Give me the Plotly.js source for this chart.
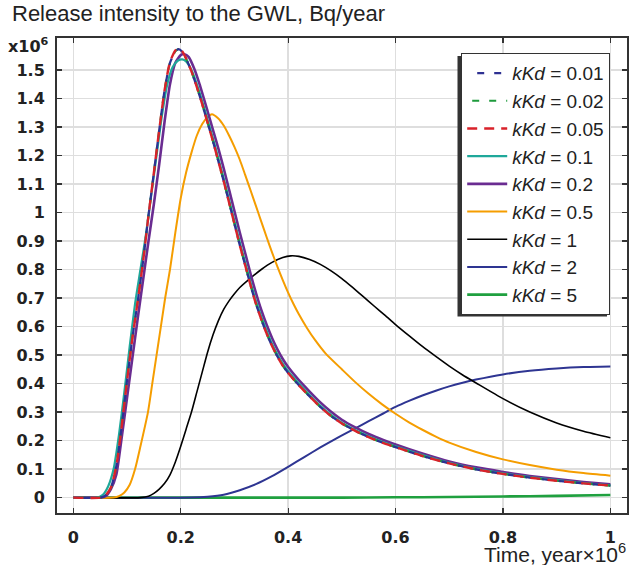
<!DOCTYPE html>
<html>
<head>
<meta charset="utf-8">
<script src="https://cdn.plot.ly/plotly-3.0.1.min.js"></script>
<style>html,body{margin:0;padding:0;background:#fff;}#chart{width:634px;height:565px;}</style>
</head>
<body>
<div id="chart"></div>
<script>
// ---- data (time in 10^6 years, release in 10^6 Bq/year) ----
const labels = ["0.01", "0.02", "0.05", "0.1", "0.2", "0.5", "1", "2", "5"];

const x001 = [0, 0.05, 0.06, 0.07, 0.08, 0.09, 0.1, 0.11, 0.12, 0.13, 0.14, 0.15, 0.16, 0.17, 0.18, 0.19, 0.196, 0.203, 0.21, 0.22, 0.23, 0.24, 0.25, 0.26, 0.27, 0.28, 0.29, 0.3, 0.31, 0.32, 0.33, 0.34, 0.35, 0.36, 0.37, 0.38, 0.39, 0.4, 0.42, 0.44, 0.46, 0.48, 0.5, 0.525, 0.55, 0.575, 0.6, 0.65, 0.7, 0.75, 0.8, 0.85, 0.9, 0.95, 1.0];
const y001 = [0, 0, 0.008, 0.035, 0.11, 0.25, 0.41, 0.56, 0.69, 0.83, 0.99, 1.14, 1.29, 1.43, 1.525, 1.565, 1.573, 1.563, 1.54, 1.495, 1.44, 1.38, 1.315, 1.25, 1.18, 1.11, 1.035, 0.96, 0.885, 0.815, 0.745, 0.68, 0.625, 0.575, 0.532, 0.495, 0.463, 0.437, 0.394, 0.355, 0.318, 0.286, 0.26, 0.234, 0.212, 0.193, 0.177, 0.146, 0.12, 0.099, 0.083, 0.07, 0.059, 0.05, 0.042];
const x002 = x001.slice();
const y002 = y001.slice();
const x005 = x001.slice();
const y005 = [0, 0, 0.008, 0.035, 0.11, 0.25, 0.41, 0.56, 0.69, 0.83, 0.99, 1.14, 1.29, 1.43, 1.528, 1.568, 1.576, 1.565, 1.54, 1.495, 1.44, 1.38, 1.315, 1.25, 1.18, 1.11, 1.035, 0.96, 0.885, 0.815, 0.745, 0.68, 0.625, 0.575, 0.532, 0.495, 0.463, 0.437, 0.394, 0.355, 0.318, 0.286, 0.26, 0.234, 0.212, 0.193, 0.177, 0.146, 0.12, 0.099, 0.083, 0.07, 0.059, 0.05, 0.042];

const x01 = [0, 0.045, 0.055, 0.065, 0.075, 0.085, 0.095, 0.105, 0.115, 0.125, 0.135, 0.145, 0.155, 0.165, 0.175, 0.185, 0.195, 0.203, 0.21, 0.22, 0.23, 0.24, 0.25, 0.26, 0.27, 0.28, 0.29, 0.3, 0.31, 0.32, 0.33, 0.34, 0.35, 0.36, 0.37, 0.38, 0.39, 0.4, 0.42, 0.44, 0.46, 0.48, 0.5, 0.525, 0.55, 0.575, 0.6, 0.65, 0.7, 0.75, 0.8, 0.85, 0.9, 0.95, 1.0];
const y01 = [0, 0, 0.01, 0.04, 0.1, 0.22, 0.37, 0.53, 0.68, 0.8, 0.92, 1.06, 1.2, 1.34, 1.45, 1.51, 1.533, 1.537, 1.53, 1.5, 1.45, 1.39, 1.325, 1.26, 1.19, 1.12, 1.045, 0.97, 0.895, 0.825, 0.755, 0.69, 0.635, 0.585, 0.54, 0.502, 0.47, 0.443, 0.4, 0.36, 0.322, 0.29, 0.263, 0.237, 0.215, 0.196, 0.18, 0.149, 0.122, 0.101, 0.085, 0.072, 0.061, 0.051, 0.043];

const x02 = [0, 0.05, 0.06, 0.07, 0.08, 0.09, 0.1, 0.11, 0.12, 0.13, 0.14, 0.15, 0.16, 0.17, 0.18, 0.19, 0.2, 0.206, 0.215, 0.225, 0.235, 0.25, 0.26, 0.27, 0.28, 0.29, 0.3, 0.31, 0.32, 0.33, 0.34, 0.35, 0.36, 0.37, 0.38, 0.39, 0.4, 0.42, 0.44, 0.46, 0.48, 0.5, 0.525, 0.55, 0.577, 0.6, 0.65, 0.7, 0.75, 0.8, 0.85, 0.9, 0.95, 1.0];
const y02 = [0, 0, 0.005, 0.03, 0.08, 0.21, 0.35, 0.49, 0.63, 0.765, 0.9, 1.03, 1.17, 1.32, 1.45, 1.525, 1.552, 1.556, 1.545, 1.505, 1.45, 1.355, 1.29, 1.225, 1.155, 1.08, 1.005, 0.93, 0.858, 0.785, 0.718, 0.658, 0.606, 0.56, 0.52, 0.486, 0.458, 0.412, 0.372, 0.334, 0.301, 0.273, 0.246, 0.223, 0.202, 0.186, 0.155, 0.127, 0.106, 0.09, 0.076, 0.065, 0.055, 0.047];

const x05 = [0, 0.075, 0.085, 0.095, 0.105, 0.115, 0.125, 0.139, 0.147, 0.155, 0.163, 0.171, 0.18, 0.19, 0.2, 0.21, 0.22, 0.23, 0.24, 0.25, 0.258, 0.27, 0.28, 0.29, 0.3, 0.31, 0.32, 0.33, 0.34, 0.35, 0.36, 0.37, 0.38, 0.39, 0.4, 0.41, 0.42, 0.435, 0.45, 0.47, 0.5, 0.525, 0.55, 0.575, 0.6, 0.625, 0.65, 0.675, 0.7, 0.75, 0.8, 0.85, 0.9, 0.95, 1.0];
const y05 = [0, 0, 0.005, 0.018, 0.045, 0.1, 0.18, 0.3, 0.4, 0.5, 0.6, 0.7, 0.8, 0.93, 1.05, 1.14, 1.21, 1.27, 1.31, 1.335, 1.345, 1.33, 1.305, 1.27, 1.23, 1.185, 1.132, 1.078, 1.023, 0.968, 0.913, 0.86, 0.81, 0.763, 0.719, 0.679, 0.643, 0.595, 0.553, 0.505, 0.45, 0.405, 0.364, 0.327, 0.294, 0.264, 0.238, 0.214, 0.193, 0.16, 0.134, 0.114, 0.098, 0.086, 0.077];

const x1 = [0, 0.125, 0.14, 0.15, 0.16, 0.17, 0.18, 0.19, 0.2, 0.21, 0.22, 0.23, 0.24, 0.25, 0.26, 0.27, 0.28, 0.29, 0.3, 0.31, 0.33, 0.35, 0.37, 0.39, 0.405, 0.42, 0.44, 0.46, 0.48, 0.5, 0.52, 0.54, 0.56, 0.58, 0.6, 0.625, 0.65, 0.675, 0.7, 0.725, 0.75, 0.8, 0.85, 0.9, 0.95, 1.0];
const y1 = [0, 0, 0.005, 0.015, 0.03, 0.05, 0.08, 0.125, 0.18, 0.24, 0.3, 0.37, 0.44, 0.51, 0.57, 0.62, 0.66, 0.69, 0.715, 0.737, 0.77, 0.8, 0.825, 0.842, 0.848, 0.846, 0.835, 0.818, 0.795, 0.768, 0.737, 0.705, 0.672, 0.64, 0.607, 0.568, 0.53, 0.495, 0.461, 0.43, 0.402, 0.347, 0.3, 0.262, 0.233, 0.21];

const x2 = [0, 0.22, 0.25, 0.28, 0.31, 0.34, 0.37, 0.4, 0.43, 0.46, 0.49, 0.525, 0.55, 0.577, 0.6, 0.625, 0.65, 0.675, 0.7, 0.725, 0.75, 0.8, 0.85, 0.9, 0.95, 1.0];
const y2 = [0, 0, 0.003, 0.01, 0.026, 0.047, 0.075, 0.108, 0.142, 0.176, 0.208, 0.243, 0.268, 0.295, 0.318, 0.339, 0.358, 0.375, 0.39, 0.403, 0.414, 0.432, 0.445, 0.453, 0.458, 0.46];

const x5 = [0, 0.5, 0.6, 0.7, 0.8, 0.9, 1.0];
const y5 = [0, 0, 0.001, 0.002, 0.004, 0.006, 0.009];

const colors = ["#2e3192", "#1e9a3c", "#d9222a", "#1fa89a", "#6a2c91", "#f59d00", "#000000", "#2e3592", "#1fa03f"];
const dashes = ["0px,10px,7px,0px", "0px,5px,7px,5px", "10px,7px", "solid", "solid", "solid", "solid", "solid", "solid"];
const widths = [2.2, 2.2, 2.4, 2.2, 2.6, 2, 1.6, 2, 2.6];

const xs = [x001, x002, x005, x01, x02, x05, x1, x2, x5];
const ys = [y001, y002, y005, y01, y02, y05, y1, y2, y5];

const traces = labels.map((lab, i) => ({
  type: 'scatter', mode: 'lines',
  x: xs[i], y: ys[i],
  name: '<i>kKd</i> = ' + lab,
  legendrank: i + 1,
  line: {color: colors[i], width: widths[i], dash: dashes[i], shape: 'spline', smoothing: 0.6}
}));
// draw order: solid curves underneath, red dashed on top
const order = [8, 7, 6, 5, 4, 3, 1, 0, 2];
const data = order.map(i => traces[i]);

const W = 634, H = 565, ml = 57, mr = 7, mt = 38, mb = 52;
const pw = W - ml - mr, ph = H - mt - mb;
const px2x = p => (p - ml) / pw;
const py2y = p => (H - mb - p) / ph;

const yTicks = [0, 0.1, 0.2, 0.3, 0.4, 0.5, 0.6, 0.7, 0.8, 0.9, 1, 1.1, 1.2, 1.3, 1.4, 1.5];
const xTicks = [0, 0.2, 0.4, 0.6, 0.8, 1];

const tickFont = {family: 'DejaVu Sans', size: 16, color: '#222', weight: 700};

const layout = {
  width: W, height: H,
  margin: {l: ml, r: mr, t: mt, b: mb, pad: 0},
  paper_bgcolor: '#fff', plot_bgcolor: '#fff',
  showlegend: true,
  xaxis: {
    range: [-0.0304, 1.031], tickvals: xTicks, ticktext: xTicks.map(String),
    ticks: 'inside', ticklen: 5, tickwidth: 1.2, tickcolor: '#333',
    mirror: 'ticks', showline: true, linecolor: '#333', linewidth: 2,
    showgrid: true, gridcolor: '#dedede', gridwidth: 1.5, zeroline: false,
    tickfont: tickFont, ticklabelstandoff: 9
  },
  yaxis: {
    range: [-0.054, 1.612], tickvals: yTicks, ticktext: yTicks.map(String),
    ticks: 'inside', ticklen: 5, tickwidth: 1.2, tickcolor: '#333',
    mirror: 'ticks', showline: true, linecolor: '#333', linewidth: 2,
    showgrid: true, gridcolor: '#dedede', gridwidth: 1.5, zeroline: false,
    tickfont: tickFont, ticklabelstandoff: 7
  },
  legend: {
    x: px2x(461), y: py2y(53), xanchor: 'left', yanchor: 'top',
    bgcolor: '#fff', bordercolor: '#333', borderwidth: 1.2,
    font: {family: 'Liberation Sans', size: 19, color: '#222'},
    itemwidth: 40, tracegroupgap: 0, traceorder: 'normal'
  },
  shapes: [
    {type: 'rect', xref: 'paper', yref: 'paper', layer: 'above',
     x0: px2x(457.5), x1: px2x(607), y0: py2y(316.5), y1: py2y(56),
     fillcolor: '#333', line: {width: 0}}
  ],
  annotations: [
    {text: 'Release intensity to the GWL, Bq/year', xref: 'paper', yref: 'paper',
     x: px2x(10), y: py2y(14), xanchor: 'left', yanchor: 'middle', showarrow: false,
     font: {family: 'Liberation Sans', size: 22, color: '#222'}},
    {text: 'x10<sup>6</sup>', xref: 'paper', yref: 'paper', x: px2x(51), y: py2y(45),
     xanchor: 'right', yanchor: 'middle', showarrow: false, font: tickFont},
    {text: 'Time, year×10<sup>6</sup>', xref: 'paper', yref: 'paper', x: px2x(628), y: py2y(553),
     xanchor: 'right', yanchor: 'middle', showarrow: false,
     font: {family: 'Liberation Sans', size: 21, color: '#222'}}
  ]
};

Plotly.newPlot('chart', data, layout, {displayModeBar: false, staticPlot: true});
</script>
</body>
</html>
